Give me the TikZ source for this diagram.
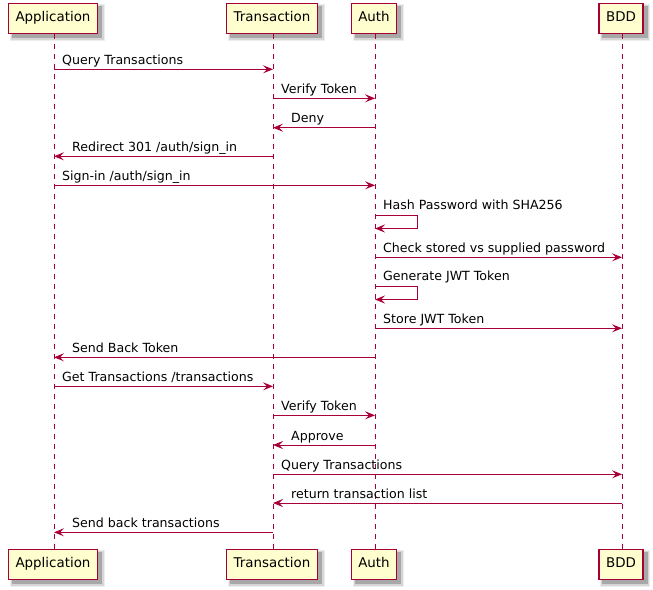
\documentclass[tikz,border=0pt]{standalone}
\usepackage{fontspec}
\setmainfont{DejaVu Sans}
\usetikzlibrary{arrows.meta,backgrounds}
\definecolor{umlred}{RGB}{168,0,54}
\definecolor{umlfill}{RGB}{254,254,206}
\tikzset{
  pbox/.style={draw=umlred, line width=1.5pt, fill=umlfill, inner xsep=7pt,
    minimum height=30pt, text height=10pt, text depth=3pt,
    font=\fontsize{13.4}{16}\selectfont},
  lifeline/.style={draw=umlred, line width=0.9pt, dash pattern=on 5pt off 5pt},
  msg/.style={draw=umlred, line width=1pt, -{Stealth[length=10pt,width=8pt,inset=4pt]}},
  lbl/.style={font=\fontsize{12.6}{15}\selectfont, inner sep=0pt, anchor=base west},
  shade1/.style={fill=black!34},
  shade2/.style={fill=black!16},
  shade3/.style={fill=black!7}
}
% soft shadow below and to the right of a participant box
\newcommand{\boxshadow}[1]{%
  \fill[shade3] ([shift={(2,1)}]#1.north west) rectangle ([shift={(6.5,6.5)}]#1.south east);
  \fill[shade2] ([shift={(3,2)}]#1.north west) rectangle ([shift={(5.5,5.5)}]#1.south east);
  \fill[shade1] ([shift={(4,3.5)}]#1.north west) rectangle ([shift={(4,4)}]#1.south east);
}
\begin{document}
\begin{tikzpicture}[x=1pt,y=-1pt]
\useasboundingbox (0,0) rectangle (653,589);
% participants, top and bottom
\node[pbox] (appT) at (53,18.3) {Application};
\node[pbox] (traT) at (272,18.3) {Transaction};
\node[pbox] (autT) at (374,18.3) {Auth};
\node[pbox] (bddT) at (621,18.3) {BDD};
\node[pbox] (appB) at (53,564.3) {Application};
\node[pbox] (traB) at (272,564.3) {Transaction};
\node[pbox] (autB) at (374,564.3) {Auth};
\node[pbox] (bddB) at (621,564.3) {BDD};
\begin{scope}[on background layer]
\foreach \b in {appT,traT,autT,bddT,appB,traB,autB,bddB} {\boxshadow{\b}}
\end{scope}
% lifeline ends, a little right of the box centres
\coordinate (appTs) at ([xshift=1pt]appT.south);
\coordinate (traTs) at ([xshift=1pt]traT.south);
\coordinate (autTs) at ([xshift=1pt]autT.south);
\coordinate (bddTs) at ([xshift=1pt]bddT.south);
\coordinate (appBn) at ([xshift=1pt]appB.north);
\coordinate (traBn) at ([xshift=1pt]traB.north);
\coordinate (autBn) at ([xshift=1pt]autB.north);
\coordinate (bddBn) at ([xshift=1pt]bddB.north);
% lifelines
\draw[lifeline] (appTs) -- (appBn);
\draw[lifeline] (traTs) -- (traBn);
\draw[lifeline] (autTs) -- (autBn);
\draw[lifeline] (bddTs) -- (bddBn);
% message rows
\coordinate (m1) at (0,69.3);
\coordinate (m2) at (0,98.3);
\coordinate (m3) at (0,127.7);
\coordinate (m4) at (0,156.3);
\coordinate (m5) at (0,185.3);
\coordinate (s1a) at (0,215.3);
\coordinate (s1b) at (0,228.5);
\coordinate (m7) at (0,257.3);
\coordinate (s2a) at (0,286.7);
\coordinate (s2b) at (0,299.5);
\coordinate (m9) at (0,328.3);
\coordinate (m10) at (0,357.3);
\coordinate (m11) at (0,386.3);
\coordinate (m12) at (0,415.3);
\coordinate (m13) at (0,445.0);
\coordinate (m14) at (0,474.3);
\coordinate (m15) at (0,503.0);
\coordinate (m16) at (0,532.3);
% messages
\draw[msg] (appTs |- m1) -- (traTs |- m1);
\node[lbl] at ([xshift=8pt,yshift=5pt]appTs |- m1) {Query Transactions};
\draw[msg] (traTs |- m2) -- (autTs |- m2);
\node[lbl] at ([xshift=8pt,yshift=5pt]traTs |- m2) {Verify Token};
\draw[msg] (autTs |- m3) -- (traTs |- m3);
\node[lbl] at ([xshift=18pt,yshift=5pt]traTs |- m3) {Deny};
\draw[msg] (traTs |- m4) -- (appTs |- m4);
\node[lbl] at ([xshift=18pt,yshift=5pt]appTs |- m4) {Redirect 301 /auth/sign\_in};
\draw[msg] (appTs |- m5) -- (autTs |- m5);
\node[lbl] at ([xshift=8pt,yshift=5pt]appTs |- m5) {Sign-in /auth/sign\_in};
\draw[msg] (autTs |- s1a) -- ++(42.5,0) -- ++(0,13.2) -- (autTs |- s1b);
\node[lbl] at ([xshift=8pt,yshift=6pt]autTs |- s1a) {Hash Password with SHA256};
\draw[msg] (autTs |- m7) -- (bddTs |- m7);
\node[lbl] at ([xshift=8pt,yshift=5pt]autTs |- m7) {Check stored vs supplied password};
\draw[msg] (autTs |- s2a) -- ++(42.5,0) -- ++(0,12.8) -- (autTs |- s2b);
\node[lbl] at ([xshift=8pt,yshift=6pt]autTs |- s2a) {Generate JWT Token};
\draw[msg] (autTs |- m9) -- (bddTs |- m9);
\node[lbl] at ([xshift=8pt,yshift=5pt]autTs |- m9) {Store JWT Token};
\draw[msg] (autTs |- m10) -- (appTs |- m10);
\node[lbl] at ([xshift=18pt,yshift=5pt]appTs |- m10) {Send Back Token};
\draw[msg] (appTs |- m11) -- (traTs |- m11);
\node[lbl] at ([xshift=8pt,yshift=5pt]appTs |- m11) {Get Transactions /transactions};
\draw[msg] (traTs |- m12) -- (autTs |- m12);
\node[lbl] at ([xshift=8pt,yshift=5pt]traTs |- m12) {Verify Token};
\draw[msg] (autTs |- m13) -- (traTs |- m13);
\node[lbl] at ([xshift=18pt,yshift=5pt]traTs |- m13) {Approve};
\draw[msg] (traTs |- m14) -- (bddTs |- m14);
\node[lbl] at ([xshift=8pt,yshift=5pt]traTs |- m14) {Query Transactions};
\draw[msg] (bddTs |- m15) -- (traTs |- m15);
\node[lbl] at ([xshift=18pt,yshift=5pt]traTs |- m15) {return transaction list};
\draw[msg] (traTs |- m16) -- (appTs |- m16);
\node[lbl] at ([xshift=18pt,yshift=5pt]appTs |- m16) {Send back transactions};
\end{tikzpicture}
\end{document}
